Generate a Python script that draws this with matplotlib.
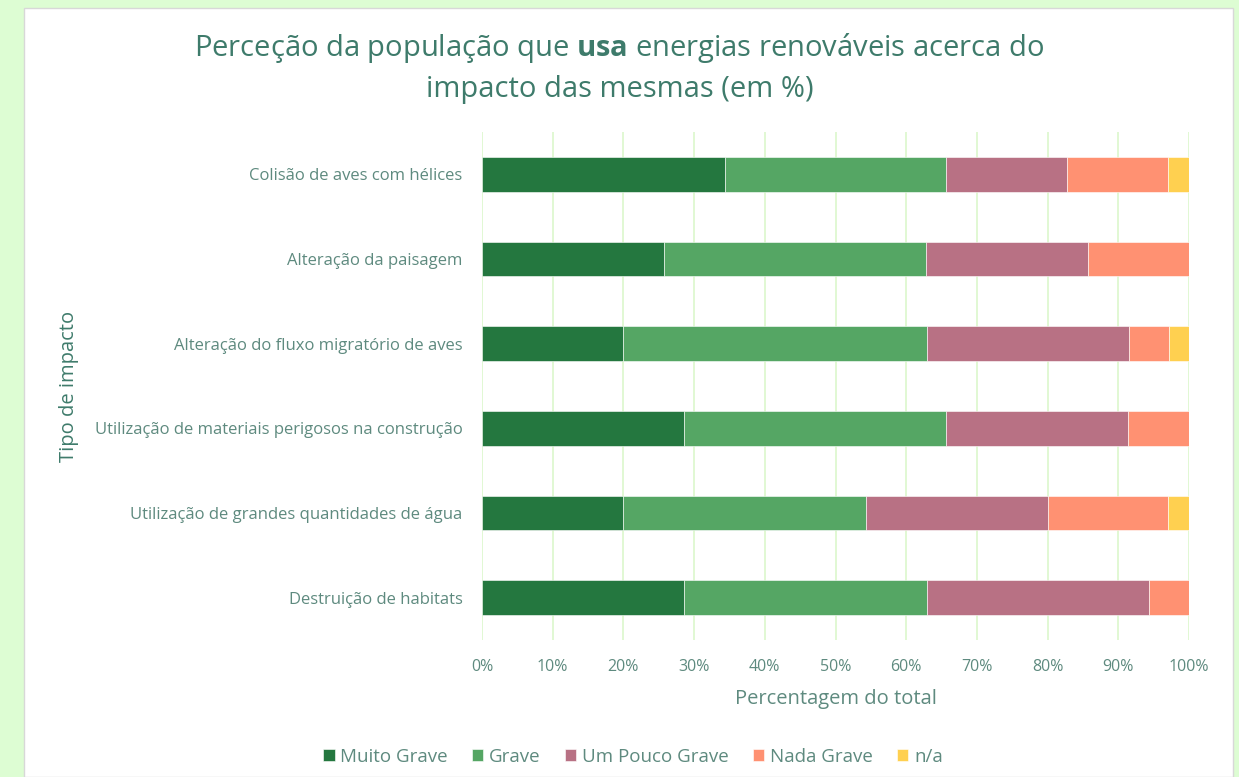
import matplotlib
matplotlib.use("Agg")
import matplotlib.pyplot as plt
from matplotlib.patches import Rectangle

# data (percent of total)
categories = [
    "Colisão de aves com hélices",
    "Alteração da paisagem",
    "Alteração do fluxo migratório de aves",
    "Utilização de materiais perigosos na construção",
    "Utilização de grandes quantidades de água",
    "Destruição de habitats",
]
muito_grave = [34.3, 25.7, 20.0, 28.6, 20.0, 28.6]
grave = [31.4, 37.1, 42.9, 37.1, 34.3, 34.3]
um_pouco_grave = [17.1, 22.9, 28.6, 25.7, 25.7, 31.4]
nada_grave = [14.3, 14.3, 5.7, 8.6, 17.1, 5.7]
na = [2.9, 0.0, 2.9, 0.0, 2.9, 0.0]

series = [
    ("Muito Grave", muito_grave, "#24773f"),
    ("Grave", grave, "#55a664"),
    ("Um Pouco Grave", um_pouco_grave, "#b87184"),
    ("Nada Grave", nada_grave, "#ff9172"),
    ("n/a", na, "#ffd050"),
]
xticks = [0, 10, 20, 30, 40, 50, 60, 70, 80, 90, 100]

plt.rcParams["font.family"] = ["Open Sans", "DejaVu Sans"]
plt.rcParams["mathtext.fontset"] = "custom"
plt.rcParams["mathtext.rm"] = "Open Sans"
plt.rcParams["mathtext.bf"] = "Open Sans:bold"

title_col = "#3e7b6b"
tick_col = "#5e8a7f"

fig = plt.figure(figsize=(12.39, 7.77), dpi=100, facecolor="#ddfdd3")
card = Rectangle((24 / 1239, 0), (1233 - 24) / 1239, 1 - 8 / 777,
                 transform=fig.transFigure, facecolor="white",
                 edgecolor="#d8d8d8", linewidth=1, zorder=-5)
fig.patches.append(card)

ax = fig.add_axes([482 / 1239, 1 - 640 / 777, (1189 - 482) / 1239, (640 - 132) / 777])
ax.set_facecolor("none")

ypos = list(range(len(categories)))
left = [0.0] * len(categories)
for name, vals, col in series:
    ax.barh(ypos, vals, left=left, height=0.41, color=col, label=name,
            edgecolor="white", linewidth=0.4, zorder=3)
    left = [a + b for a, b in zip(left, vals)]

ax.set_ylim(len(categories) - 0.5, -0.5)
ax.set_xlim(0, 100)
ax.set_yticks(ypos)
ax.set_yticklabels(categories, fontsize=12, color=tick_col)
ax.set_xticks(xticks)
ax.set_xticklabels([f"{t}%" for t in xticks], fontsize=11.5, color=tick_col)
ax.tick_params(length=0, pad=14, axis="y")
ax.tick_params(length=0, pad=14, axis="x")
ax.grid(axis="x", color="#dcf7cc", linewidth=1.2, zorder=0)
for s in ax.spines.values():
    s.set_visible(False)

ax.set_xlabel("Percentagem do total", fontsize=14.5, color=tick_col, labelpad=10)
ax.set_ylabel("Tipo de impacto", fontsize=14.5, color=title_col)
ax.yaxis.set_label_coords(-0.57, 0.5)

fig.text(0.5, 1 - 48 / 777,
         r"Perceção da população que $\bf{usa}$ energias renováveis acerca do",
         ha="center", va="center", fontsize=21, color=title_col)
fig.text(0.5, 1 - 89 / 777, "impacto das mesmas (em %)",
         ha="center", va="center", fontsize=21, color=title_col)

fig.legend(loc="center", bbox_to_anchor=(633 / 1239, 1 - 757 / 777), ncol=5,
           frameon=False, fontsize=13.5, handlelength=0.6, handleheight=0.6,
           handletextpad=0.3, columnspacing=1.3, labelcolor=tick_col)

fig.savefig("out.png", dpi=100, facecolor=fig.get_facecolor())
